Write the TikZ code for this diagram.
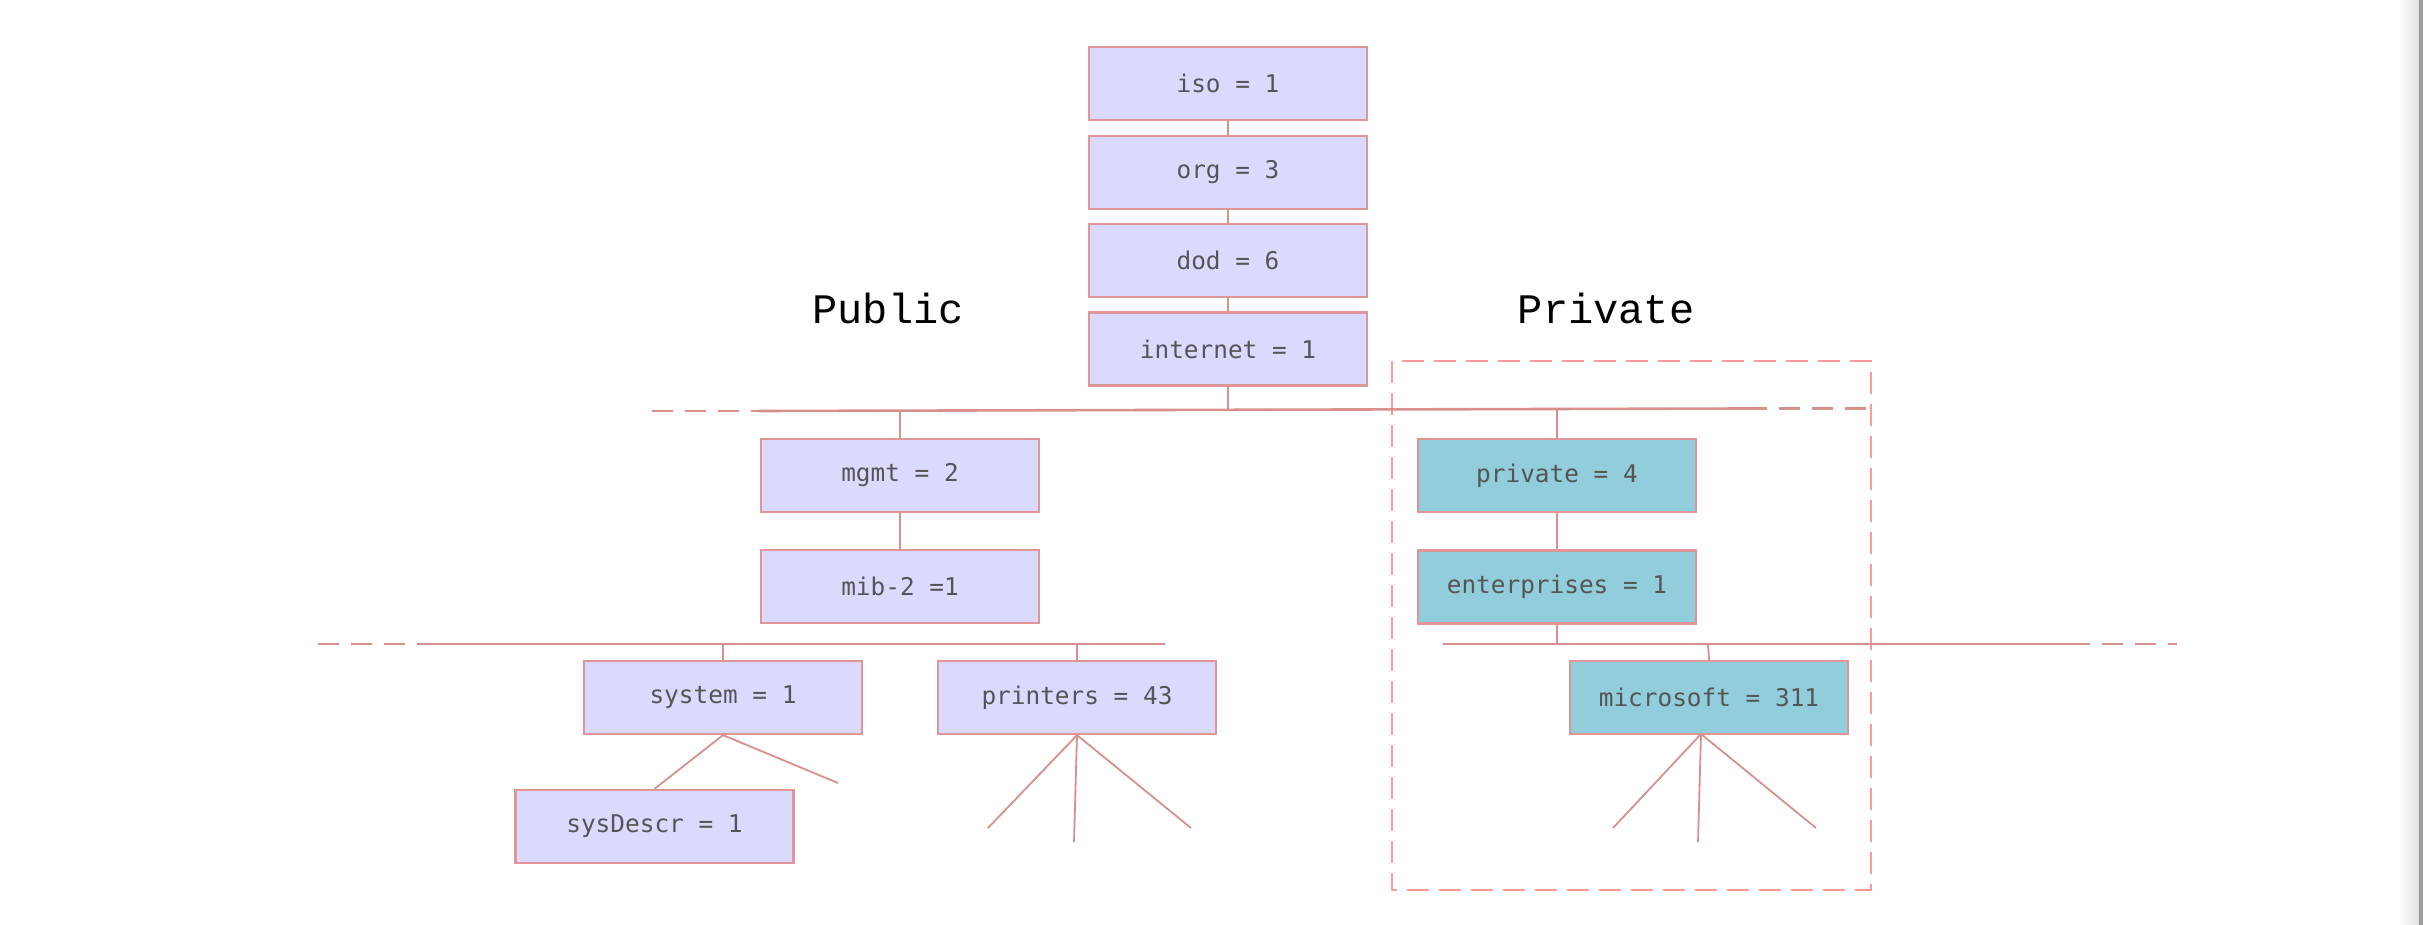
\documentclass[tikz,border=0pt]{standalone}
\usepackage{fontspec}
\newfontfamily\boxfont{DejaVu Sans Mono}
\newfontfamily\labfont{Liberation Mono}
\definecolor{boxfill}{RGB}{218,218,255}
\definecolor{tealfill}{RGB}{146,205,219}
\definecolor{boxline}{RGB}{224,150,150}
\definecolor{busline}{RGB}{216,144,140}
\definecolor{dashline}{RGB}{255,153,153}
\definecolor{txt}{RGB}{85,85,85}
\begin{document}
\begin{tikzpicture}[x=0.5pt,y=-0.5pt,
  oidbox/.style={draw=boxline,line width=1.1pt,fill=boxfill,minimum width=139pt,minimum height=36.5pt,inner sep=0pt,
    font=\boxfont\fontsize{12.2}{14}\selectfont,text=txt},
  privbox/.style={oidbox,fill=tealfill},
  bus/.style={draw=busline,line width=1.3pt},
  busdash/.style={draw=busline,line width=1.3pt,dash pattern=on 10.5pt off 6pt},
  stem/.style={draw=busline,line width=0.9pt},
  region/.style={draw=dashline,line width=1.4pt,dash pattern=on 11pt off 5pt},
  sidelabel/.style={font=\labfont\fontsize{21}{24}\selectfont,text=black,anchor=base}]
\useasboundingbox (0,0) rectangle (2423,925);
\fill[white] (0,0) rectangle (2423,925);
\shade[left color=white,right color=black!12] (2398,0) rectangle (2419,925);
\fill[black!38] (2419,0) rectangle (2423,925);

% region box
\draw[region] (1392,361) rectangle (1871,890);

% top chain
\node[oidbox] (iso) at (1228,83.5) {iso = 1};
\node[oidbox] (org) at (1228,172.5) {org = 3};
\node[oidbox] (dod) at (1228,260.5) {dod = 6};
\node[oidbox] (internet) at (1228,349) {internet = 1};
\draw[stem] (iso.south) -- (org.north);
\draw[stem] (org.south) -- (dod.north);
\draw[stem] (dod.south) -- (internet.north);

% labels
\node[sidelabel] (public) at (888,323) {Public};
\node[sidelabel] (privlab) at (1606,323) {Private};

% upper bus
\coordinate (ubL0) at (652,411);
\coordinate (ubL1) at (759,411);
\coordinate (ubM) at (1228,410);
\coordinate (ubR1) at (1746,408.5);
\coordinate (ubR0) at (1866,408.5);
\coordinate (ubmg) at (900,411);
\coordinate (ubpr) at (1557,409);
\draw[busdash] (ubL0) -- (ubL1);
\draw[bus] (ubL1) -- (ubR1);
\draw[busdash] (ubR1) -- (ubR0);
\draw[stem] (internet.south) -- (ubM);

% public branch
\node[oidbox] (mgmt) at (900,475.5) {mgmt = 2};
\node[oidbox] (mib) at (900,586.5) {mib-2 =1};
\draw[stem] (ubmg) -- (mgmt.north);
\draw[stem] (mgmt.south) -- (mib.north);

\coordinate (lbL0) at (318,644);
\coordinate (lbL1) at (426,644);
\coordinate (lbR) at (1165,644);
\coordinate (lbsys) at (723,644);
\coordinate (lbprn) at (1077,644);
\draw[busdash] (lbL0) -- (lbL1);
\draw[bus] (lbL1) -- (lbR);

\node[oidbox] (system) at (723,697.5) {system = 1};
\node[oidbox] (printers) at (1077,697.5) {printers = 43};
\node[oidbox] (sysdescr) at (654.5,826.5) {sysDescr = 1};
\draw[stem] (lbsys) -- (system.north);
\draw[stem] (lbprn) -- (printers.north);

\coordinate (sysend) at (838,783);
\draw[stem] (system.south) -- (sysdescr.north);
\draw[stem] (system.south) -- (sysend);

\coordinate (pr1) at (988,828);
\coordinate (pr2) at (1074,842);
\coordinate (pr3) at (1191,828);
\draw[stem] (printers.south) -- (pr1);
\draw[stem] (printers.south) -- (pr2);
\draw[stem] (printers.south) -- (pr3);

% private branch
\node[privbox] (private) at (1557,475.5) {private = 4};
\node[privbox] (enterprises) at (1557,587) {enterprises = 1};
\draw[stem] (ubpr) -- (private.north);
\draw[stem] (private.south) -- (enterprises.north);

\coordinate (rbL) at (1443,644);
\coordinate (rbR1) at (2069,644);
\coordinate (rbR0) at (2177,644);
\coordinate (rbent) at (1557,644);
\coordinate (rbms) at (1708,644);
\draw[bus] (rbL) -- (rbR1);
\draw[busdash] (rbR1) -- (rbR0);
\draw[stem] (enterprises.south) -- (rbent);

\node[privbox] (microsoft) at (1709,697.5) {microsoft = 311};
\draw[stem] (rbms) -- (microsoft.north);
\coordinate (ms0) at (1701,734);
\coordinate (ms1) at (1613,828);
\coordinate (ms2) at (1698,842);
\coordinate (ms3) at (1816,828);
\draw[stem] (ms0) -- (ms1);
\draw[stem] (ms0) -- (ms2);
\draw[stem] (ms0) -- (ms3);
\end{tikzpicture}
\end{document}
